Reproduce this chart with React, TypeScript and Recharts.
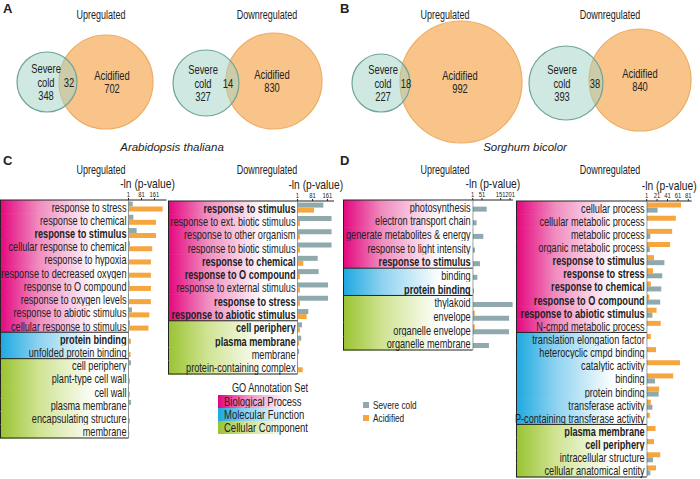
import React from 'react';
import { BarChart, Bar, XAxis, YAxis, Label, ScatterChart, Scatter } from 'recharts';

const FONT = "'Liberation Sans', Arial, sans-serif";
const SX = 0.77; // squeeze Liberation Sans to look like Arial Narrow
const COLD = '#8fa9ad';
const ACID = '#f6a63e';
const INK = '#222';

// Venn counts, in order: A up, A down, B up, B down
const vennCold = [348, 327, 227, 393];
const vennShared = [32, 14, 18, 38];
const vennAcid = [702, 830, 992, 840];

// C - Arabidopsis, upregulated
const cUpTerms = [
  'response to stress', 'response to chemical', 'response to stimulus', 'cellular response to chemical',
  'response to hypoxia', 'response to decreased oxygen', 'response to O compound', 'response to oxygen levels',
  'response to abiotic stimulus', 'cellular response to stimulus', 'protein binding', 'unfolded protein binding',
  'cell periphery', 'plant-type cell wall', 'cell wall', 'plasma membrane', 'encapsulating structure', 'membrane',
];
const cUpGroups = ['BP', 'BP', 'BP', 'BP', 'BP', 'BP', 'BP', 'BP', 'BP', 'BP', 'MF', 'MF', 'CC', 'CC', 'CC', 'CC', 'CC', 'CC'];
const cUpBold = ['response to stimulus', 'protein binding'];
const cUpCold = [27, 31, 51, 10, null, null, 8, null, 22, 10, null, null, 16, null, null, 16, null, null];
const cUpAcid = [211, 170, 170, 147, 139, 139, 139, 139, 129, 124, 16, 14, 3, 10, 10, 2, 10, 6];

// C - Arabidopsis, downregulated
const cDownTerms = [
  'response to stimulus', 'response to ext. biotic stimulus', 'response to other organism', 'response to biotic stimulus',
  'response to chemical', 'response to O compound', 'response to external stimulus', 'response to stress',
  'response to abiotic stimulus', 'cell periphery', 'plasma membrane', 'membrane', 'protein-containing complex',
];
const cDownGroups = ['BP', 'BP', 'BP', 'BP', 'BP', 'BP', 'BP', 'BP', 'BP', 'CC', 'CC', 'CC', 'CC'];
const cDownBold = ['response to stimulus', 'response to chemical', 'response to O compound', 'response to stress',
  'response to abiotic stimulus', 'cell periphery', 'plasma membrane'];
const cDownCold = [139, 183, 183, 183, 109, 114, 164, 164, 59, 25, 21, 10, null];
const cDownAcid = [89, 14, 14, 14, 32, 14, 14, 14, 50, 14, 10, null, 29];

// D - Sorghum, upregulated
const dUpTerms = [
  'photosynthesis', 'electron transport chain', 'generate metabolites & energy', 'response to light intensity',
  'response to stimulus', 'binding', 'protein binding', 'thylakoid', 'envelope', 'organelle envelope', 'organelle membrane',
];
const dUpGroups = ['BP', 'BP', 'BP', 'BP', 'BP', 'MF', 'MF', 'CC', 'CC', 'CC', 'CC'];
const dUpBold = ['response to stimulus', 'protein binding'];
const dUpCold = [76, 22, 58, 13, 40, 26, 8, 215, 196, 196, 88];
const dUpAcid = [null, null, null, null, null, null, null, null, 12, 12, null];

// D - Sorghum, downregulated
const dDownTerms = [
  'cellular process', 'cellular metabolic process', 'metabolic process', 'organic metabolic process',
  'response to stimulus', 'response to stress', 'response to chemical', 'response to O compound',
  'response to abiotic stimulus', 'N-cmpd metabolic process', 'translation elongation factor',
  'heterocyclic cmpd binding', 'catalytic activity', 'binding', 'protein binding', 'transferase activity',
  'P-containing transferase activity', 'plasma membrane', 'cell periphery', 'intracellular structure',
  'cellular anatomical entity',
];
const dDownGroups = ['BP', 'BP', 'BP', 'BP', 'BP', 'BP', 'BP', 'BP', 'BP', 'BP',
  'MF', 'MF', 'MF', 'MF', 'MF', 'MF', 'MF', 'CC', 'CC', 'CC', 'CC'];
const dDownBold = ['response to stimulus', 'response to stress', 'response to chemical', 'response to O compound',
  'response to abiotic stimulus', 'plasma membrane', 'cell periphery'];
const dDownAcid = [67, 57, 50, 46, 15, 13, 9, 6, 20, 28, 9, 19, 65, 52, 25, 9, 7, 18, 15, 27, 19];
const dDownCold = [22, null, 8, 7, 35, 31, 29, 27, 12, null, null, null, null, 17, 24, 12, null, null, null, 13, 8];

// where the venn circles sit (page px)
const vennLayout = [
  { coldX: 47, coldY: 82, coldR: 30, acidX: 106, acidY: 82, acidR: 47, sharedX: 69, coldTextX: 46, acidTextX: 112 },
  { coldX: 206, coldY: 83, coldR: 33, acidX: 274, acidY: 81, acidR: 48, sharedX: 228, coldTextX: 203, acidTextX: 272 },
  { coldX: 381, coldY: 83, coldR: 29, acidX: 461, acidY: 82, acidR: 61, sharedX: 406, coldTextX: 383, acidTextX: 460 },
  { coldX: 566, coldY: 83, coldR: 37, acidX: 640, acidY: 80, acidR: 51, sharedX: 595, coldTextX: 562, acidTextX: 640 },
];

const gradients: Record<string, string[]> = {
  BP: ['#e4057e', '#f08cbf', '#ffffff'],
  MF: ['#1ba8e0', '#8dd2f0', '#ffffff'],
  CC: ['#99c331', '#cfe391', '#ffffff'],
};

// narrow svg text
const NText = ({ x, y, anchor = 'middle', size = 12, weight = 400, baseline = 'central', sx = SX, children }: any) => (
  <text
    transform={`translate(${x},${y}) scale(${sx},1)`}
    textAnchor={anchor}
    dominantBaseline={baseline}
    fontSize={size}
    fontWeight={weight}
    fontFamily={FONT}
    fill={INK}
  >
    {children}
  </text>
);

// html text, centred or left-anchored on (x, y)
const T = ({ x, y, children, size = 12, weight = 400, italic = false, anchor = 'middle', sx = 0.75 }: any) => (
  <div
    style={{
      position: 'absolute',
      left: x,
      top: y,
      transform: anchor === 'middle' ? `translate(-50%, -50%) scaleX(${sx})` : `translate(0, -50%) scaleX(${sx})`,
      transformOrigin: anchor === 'middle' ? 'center center' : 'left center',
      fontFamily: FONT,
      fontSize: size,
      fontWeight: weight,
      fontStyle: italic ? 'italic' : 'normal',
      color: INK,
      whiteSpace: 'nowrap',
      lineHeight: 1,
    }}
  >
    {children}
  </div>
);

const VennCircle = (props: any) => {
  const { cx, cy, payload } = props;
  return (
    <circle cx={cx} cy={cy} r={payload.r} fill={payload.fill} fillOpacity={payload.op} stroke={payload.stroke} strokeWidth={1.2} />
  );
};

const VennText = (props: any) => {
  const { cx, cy, payload } = props;
  const n = payload.lines.length;
  return (
    <g>
      {payload.lines.map((t: string, i: number) => (
        <NText key={i} x={cx} y={cy + (i - (n - 1) / 2) * 13.5} size={12.5} sx={0.75}>{t}</NText>
      ))}
    </g>
  );
};

const Venns = () => {
  const acid = vennLayout.map((v) => ({ x: v.acidX, y: v.acidY, r: v.acidR, fill: '#f9c48a', op: 1, stroke: '#eeac62' }));
  const cold = vennLayout.map((v) => ({ x: v.coldX, y: v.coldY, r: v.coldR, fill: '#9fd3c6', op: 0.5, stroke: '#6fa496' }));
  const texts = vennLayout.flatMap((v, i) => [
    { x: v.coldTextX, y: v.coldY, lines: ['Severe', 'cold', String(vennCold[i])] },
    { x: v.sharedX, y: v.coldY, lines: [String(vennShared[i])] },
    { x: v.acidTextX, y: v.acidY, lines: ['Acidified', String(vennAcid[i])] },
  ]);
  return (
    <ScatterChart width={700} height={160} margin={{ top: 0, right: 0, bottom: 0, left: 0 }}>
      <XAxis type="number" dataKey="x" domain={[0, 700]} hide />
      <YAxis type="number" dataKey="y" domain={[0, 160]} reversed hide />
      <Scatter data={acid} shape={VennCircle} isAnimationActive={false} />
      <Scatter data={cold} shape={VennCircle} isAnimationActive={false} />
      <Scatter data={texts} shape={VennText} isAnimationActive={false} />
    </ScatterChart>
  );
};

const GoPanel = ({ left, top, boxW, plotW, plotH, max, ticks, terms, groups, bold, cold, acid, acidFirst }: any) => {
  const data = terms.map((t: string, i: number) => ({ term: t, cold: cold[i], acid: acid[i] }));
  const rowH = plotH / terms.length;
  const axisH = 30;
  const mr = 6;
  const width = boxW + plotW + mr;
  const height = axisH + plotH + 1;

  const renderTick = (p: any) => {
    const i = p.index;
    const g = groups[i];
    const yTop = p.y - rowH / 2;
    const first = i === 0 || groups[i - 1] !== g;
    const last = i === terms.length - 1;
    return (
      <g>
        <rect x={0} y={yTop} width={boxW} height={rowH + 0.6} fill={`url(#go-${g})`} />
        <line x1={0.5} x2={0.5} y1={yTop} y2={yTop + rowH} stroke={INK} />
        {first && <line x1={0} x2={boxW} y1={yTop} y2={yTop} stroke={INK} />}
        {last && <line x1={0} x2={boxW} y1={yTop + rowH} y2={yTop + rowH} stroke={INK} />}
        <NText x={boxW - 2} y={p.y + 0.5} anchor="end" size={11.9} weight={bold.includes(p.payload.value) ? 700 : 400}>
          {p.payload.value}
        </NText>
      </g>
    );
  };

  const renderXTick = (p: any) => (
    <NText x={p.x} y={p.y} size={7.5} sx={0.78} baseline="auto">{p.payload.value}</NText>
  );

  const renderXLabel = (p: any) => {
    const vb = p.viewBox;
    return <NText x={vb.x + vb.width / 2} y={vb.y + 13.5} size={13} sx={0.79}>-ln (p-value)</NText>;
  };

  const coldBar = <Bar key="cold" dataKey="cold" fill={COLD} isAnimationActive={false} />;
  const acidBar = <Bar key="acid" dataKey="acid" fill={ACID} isAnimationActive={false} />;

  return (
    <div style={{ position: 'absolute', left, top }}>
      <BarChart
        layout="vertical"
        width={width}
        height={height}
        data={data}
        margin={{ top: 0, right: mr, bottom: 1, left: 0 }}
        barGap={0}
        barCategoryGap="12%"
      >
        <XAxis
          type="number"
          orientation="top"
          domain={[1, max]}
          ticks={ticks}
          interval={0}
          height={axisH}
          tickSize={2}
          tickMargin={1}
          axisLine={{ stroke: INK }}
          tickLine={{ stroke: INK }}
          tick={renderXTick}
        >
          <Label position="insideTop" content={renderXLabel} />
        </XAxis>
        <YAxis
          type="category"
          dataKey="term"
          width={boxW}
          interval={0}
          tickLine={false}
          axisLine={{ stroke: INK }}
          tick={renderTick}
        />
        {acidFirst ? [acidBar, coldBar] : [coldBar, acidBar]}
      </BarChart>
    </div>
  );
};

const legendRow = (g: string) => {
  const c = gradients[g];
  return `linear-gradient(to right, ${c[0]} 0%, ${c[1]} 30%, ${c[2]} 75%)`;
};

export default function App() {
  return (
    <div style={{ position: 'absolute', left: 0, top: 0, width: 700, height: 479, background: '#fff', overflow: 'hidden' }}>
      <style>{'.recharts-surface { overflow: visible; }'}</style>
      <svg width={0} height={0} style={{ position: 'absolute' }}>
        <defs>
          {Object.keys(gradients).map((g) => (
            <linearGradient key={g} id={`go-${g}`} x1="0" x2="1" y1="0" y2="0">
              <stop offset="0" stopColor={gradients[g][0]} />
              <stop offset="0.3" stopColor={gradients[g][1]} />
              <stop offset="0.75" stopColor={gradients[g][2]} />
            </linearGradient>
          ))}
        </defs>
      </svg>

      <div style={{ position: 'absolute', left: 0, top: 0 }}>
        <Venns />
      </div>

      <T x={3} y={8} size={13} weight={700} anchor="start" sx={1}>A</T>
      <T x={340} y={8} size={13} weight={700} anchor="start" sx={1}>B</T>
      <T x={3} y={160} size={13} weight={700} anchor="start" sx={1}>C</T>
      <T x={340} y={160} size={13} weight={700} anchor="start" sx={1}>D</T>

      <T x={101} y={15}>Upregulated</T>
      <T x={267} y={15}>Downregulated</T>
      <T x={445} y={15}>Upregulated</T>
      <T x={610} y={15}>Downregulated</T>
      <T x={172} y={148} size={11.5} italic sx={1}>Arabidopsis thaliana</T>
      <T x={525} y={148} size={11.5} italic sx={1}>Sorghum bicolor</T>

      <T x={101} y={170}>Upregulated</T>
      <T x={267} y={170}>Downregulated</T>
      <T x={445} y={170}>Upregulated</T>
      <T x={610} y={170}>Downregulated</T>

      <GoPanel left={0} top={170} boxW={128.5} plotW={38} plotH={238} max={235} ticks={[1, 81, 161]}
        terms={cUpTerms} groups={cUpGroups} bold={cUpBold} cold={cUpCold} acid={cUpAcid} acidFirst={false} />
      <GoPanel left={168} top={171} boxW={129.5} plotW={36.5} plotH={173} max={196} ticks={[1, 81, 161]}
        terms={cDownTerms} groups={cDownGroups} bold={cDownBold} cold={cDownCold} acid={cDownAcid} acidFirst={false} />
      <GoPanel left={343} top={170} boxW={129.7} plotW={40.3} plotH={150} max={217} ticks={[1, 51, 151, 201]}
        terms={dUpTerms} groups={dUpGroups} bold={dUpBold} cold={dUpCold} acid={dUpAcid} acidFirst={true} />
      <GoPanel left={516} top={171} boxW={130.7} plotW={45} plotH={276} max={87.5} ticks={[1, 21, 41, 61, 81]}
        terms={dDownTerms} groups={dDownGroups} bold={dDownBold} cold={dDownCold} acid={dDownAcid} acidFirst={true} />

      {/* GO annotation legend */}
      <T x={232} y={388} size={12} anchor="start" sx={0.76}>GO Annotation Set</T>
      {[['BP', 'Biological Process'], ['MF', 'Molecular Function'], ['CC', 'Cellular Component']].map(([g, name], i) => (
        <div key={g} style={{ position: 'absolute', left: 218, top: 395 + i * 13, width: 94, height: 13, background: legendRow(g) }}>
          <T x={6} y={6.5} size={12.5} anchor="start" sx={0.76}>{name}</T>
        </div>
      ))}

      {/* series legend */}
      {[['Severe cold', COLD], ['Acidified', ACID]].map(([name, c], i) => (
        <div key={name}>
          <div style={{ position: 'absolute', left: 363, top: 402 + i * 12.5, width: 6, height: 6, background: c }} />
          <T x={373} y={405 + i * 12.5} size={11} anchor="start">{name}</T>
        </div>
      ))}
    </div>
  );
}
